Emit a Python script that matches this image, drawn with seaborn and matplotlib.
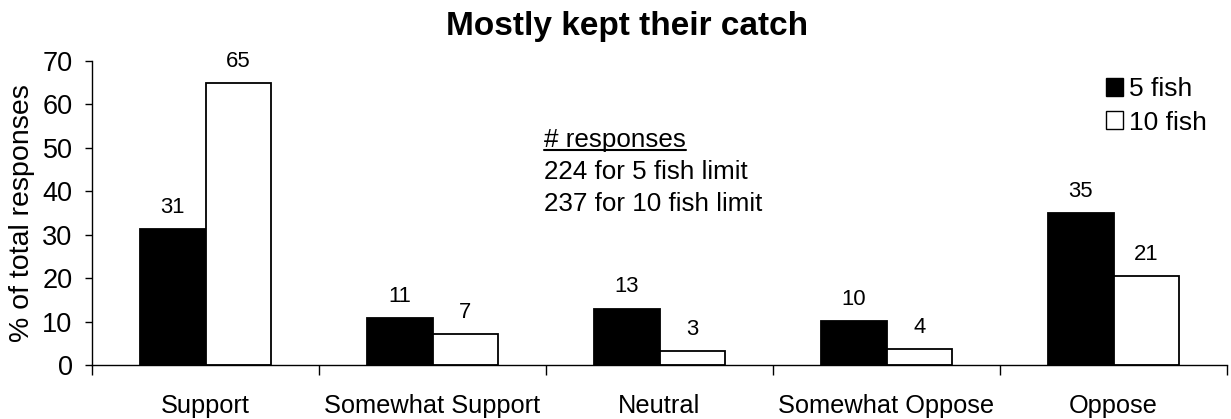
import matplotlib
matplotlib.use("Agg")
import matplotlib.pyplot as plt
import seaborn as sns
import pandas as pd
from matplotlib.patches import Patch
from matplotlib.lines import Line2D
from matplotlib.ticker import FixedLocator

categories = ["Support", "Somewhat Support", "Neutral", "Somewhat Oppose", "Oppose"]
series_names = ["5 fish", "10 fish"]
five_fish = [31.3, 10.75, 13.0, 10.2, 34.9]
ten_fish = [65.0, 7.1, 3.3, 3.7, 20.5]
five_labels = ["31", "11", "13", "10", "35"]
ten_labels = ["65", "7", "3", "4", "21"]
y_ticks = [0, 10, 20, 30, 40, 50, 60, 70]
title = "Mostly kept their catch"
ylabel = "% of total responses"
note_head = "# responses"
note_lines = ["224 for 5 fish limit", "237 for 10 fish limit"]

sns.set_theme(style="white")
plt.rcParams['font.family'] = ['Liberation Sans', 'DejaVu Sans']
plt.rcParams.update({"text.color": "black", "axes.labelcolor": "black",
                     "xtick.color": "black", "ytick.color": "black"})

df = pd.DataFrame({
    "category": categories * 2,
    "series": [series_names[0]] * len(categories) + [series_names[1]] * len(categories),
    "value": five_fish + ten_fish,
})

W, H = 1231, 419
fig = plt.figure(figsize=(W / 100, H / 100), dpi=100)
ax = fig.add_axes([92 / W, (H - 365) / H, (1227 - 92) / W, (365 - 61) / H])

sns.barplot(data=df, x="category", y="value", hue="series", order=categories,
            hue_order=series_names, palette=["black", "white"], edgecolor="black",
            linewidth=1.3, width=0.58, saturation=1, ax=ax, legend=False)

ax.set_xlim(-0.5, len(categories) - 0.5)
ax.set_ylim(0, 70)
ax.set_yticks(y_ticks)
ax.tick_params(axis="y", labelsize=19.5, direction="out", length=5, width=1, color="black", left=True, pad=9)
ax.set_xticks(range(len(categories)))
ax.set_xticklabels(categories, fontsize=18.3)
ax.tick_params(axis="x", which="major", length=0, pad=21)
ax.xaxis.set_minor_locator(FixedLocator([i - 0.5 for i in range(len(categories) + 1)]))
ax.tick_params(axis="x", which="minor", length=7, width=1, color="black", direction="out", bottom=True)
ax.set_xlabel("")
ax.set_ylabel(ylabel, fontsize=20.5, labelpad=5)
for s in ["top", "right"]:
    ax.spines[s].set_visible(False)
for s in ["left", "bottom"]:
    ax.spines[s].set_color("black")
    ax.spines[s].set_linewidth(1)

# value labels
containers = ax.containers
for cont, labs in zip(containers, [five_labels, ten_labels]):
    for bar, lab in zip(cont, labs):
        ax.annotate(lab, (bar.get_x() + bar.get_width() / 2, bar.get_height()),
                    xytext=(0, 8), textcoords="offset points", ha="center", va="bottom",
                    fontsize=15.9)

fig.text(627 / W, 1 - 26 / H, title, ha="center", va="center", fontsize=24, fontweight="bold")

# note text
t0 = fig.text(544 / W, 1 - 140 / H, note_head, ha="left", va="center", fontsize=18.7)
for i, line in enumerate(note_lines):
    fig.text(544 / W, 1 - (172 + 32 * i) / H, line, ha="left", va="center", fontsize=18.7)
fig.canvas.draw()
bb = t0.get_window_extent(fig.canvas.get_renderer())
uy = bb.y0 + 2
fig.add_artist(Line2D([bb.x0 / W, bb.x1 / W], [uy / H, uy / H], color="black", lw=1.5,
                      transform=fig.transFigure))

handles = [Patch(facecolor="black", edgecolor="black", label=series_names[0]),
           Patch(facecolor="white", edgecolor="black", label=series_names[1])]
fig.legend(handles=handles, loc="upper left", bbox_to_anchor=(1106 / W, 1 - 77 / H),
           frameon=False, fontsize=19, handlelength=0.66, handleheight=0.66,
           handletextpad=0.2, labelspacing=0.36, borderaxespad=0, borderpad=0)

fig.savefig("out.png", dpi=100)
